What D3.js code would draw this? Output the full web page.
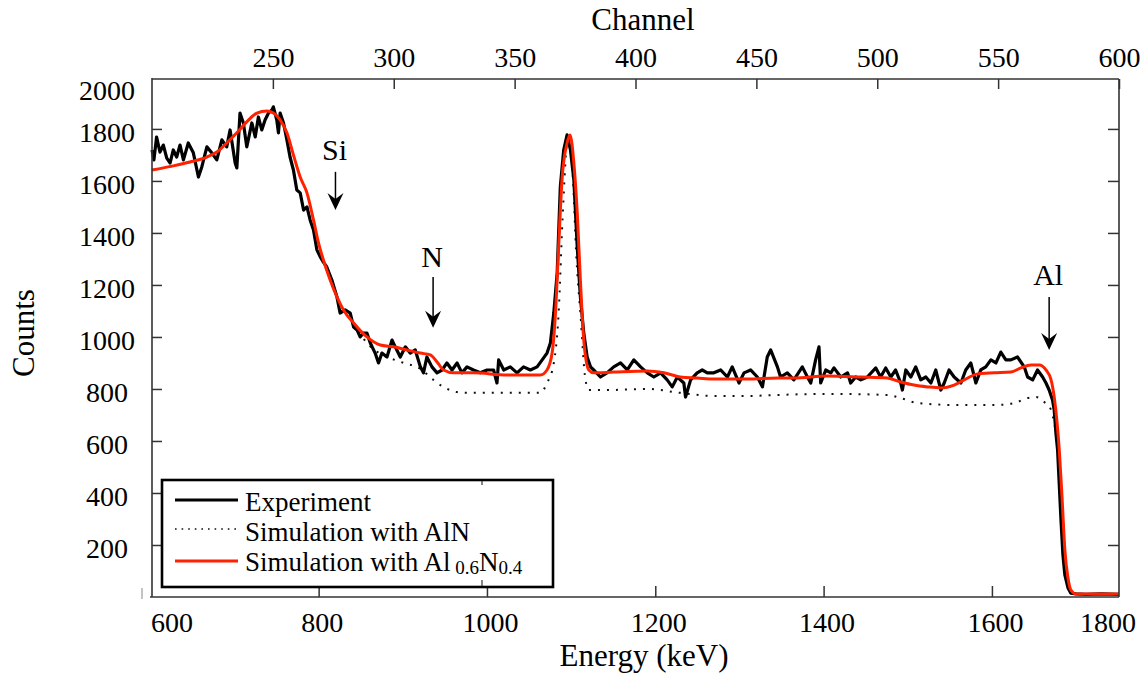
<!DOCTYPE html>
<html><head><meta charset="utf-8">
<script src="https://cdn.jsdelivr.net/npm/d3@7"></script>
<style>
body{margin:0;background:#fff;}
svg{display:block;font-family:"Liberation Serif","Times New Roman",serif;}
</style>
</head><body>
<svg id="chart" width="1146" height="678"></svg>
<script>
// ---------- DATA ----------
const expChannel = [200,200.8,201.9,203.3,204.7,206.1,207.5,208.8,210.2,211.6,213.0,215.0,217.1,219.2,220.6,222.7,224.7,226.8,228.9,230.9,232.3,234.4,235.1,236.4,237.8,239.2,241.3,242.7,244.0,245.4,246.8,248.2,249.6,250.2,251.6,252.3,253.0,254.4,255.8,257.1,258.5,259.9,261.3,262.7,264.1,265.4,266.8,268.2,269.6,270.9,272.3,274.4,276.5,277.8,279.9,282.0,283.4,284.8,286.1,287.5,288.9,290.3,292.3,293.7,295.1,297.2,299.3,300.6,302.7,304.8,306.8,308.9,311.0,312.3,313.7,315.8,317.9,320.0,322.0,324.1,326.2,328.2,330.3,333.0,335.8,338.6,341.3,342.7,343.4,345.5,348.2,351.0,353.7,356.5,359.3,361.4,363.4,364.8,366.2,367.6,368.9,370.3,371.7,373.1,374.5,375.9,377.2,378.6,380.0,381.4,382.7,385.5,388.2,391.0,393.8,396.6,399.3,402.1,404.9,407.6,410.4,413.1,415.2,417.3,420.0,420.7,422.8,425.5,427.6,429.7,432.4,435.2,438.0,440.0,442.8,444.9,447.6,450.4,452.5,454.5,455.9,458.7,460.0,462.8,465.5,469.0,471.1,472.5,474.5,475.9,476.6,478.7,480.8,482.1,484.9,487.7,489.0,491.1,493.2,495.9,499.4,501.4,503.5,505.6,507.6,509.7,510.4,511.8,513.9,515.9,518.0,520.1,522.2,524.2,526.3,527.7,529.7,531.8,534.6,536.6,538.7,540.8,542.8,544.9,547.0,549.1,551.1,553.2,555.3,558.0,560.8,562.2,564.3,566.3,568.4,569.8,571.1,572.5,573.2,573.9,574.6,575.2,576.0,576.8,577.6,578.9,580.1,582.2,586.3,592.5,600];
const expCounts = [1719,1681,1769,1711,1738,1688,1669,1719,1692,1738,1681,1746,1708,1615,1654,1731,1708,1681,1758,1731,1796,1669,1650,1861,1823,1731,1823,1769,1846,1796,1835,1861,1873,1885,1835,1785,1861,1823,1758,1692,1642,1565,1554,1488,1500,1450,1411,1335,1308,1288,1269,1219,1154,1092,1104,1092,1038,1027,1000,1015,1015,977,938,900,938,923,988,962,923,962,938,950,885,862,923,885,862,873,900,873,900,862,885,873,862,873,873,823,912,873,885,862,885,873,885,912,938,977,1092,1246,1577,1719,1777,1719,1604,1346,1154,1015,923,885,873,846,862,885,900,873,912,885,862,846,862,835,808,846,823,769,835,862,873,862,862,873,846,885,823,862,873,846,808,923,950,885,846,862,835,885,846,823,912,962,823,873,862,881,846,862,823,846,835,846,881,846,881,846,873,823,796,873,846,885,835,846,823,873,796,823,873,846,823,873,900,823,873,885,912,900,942,912,912,923,885,846,835,873,846,823,796,758,719,631,565,450,296,162,85,35,15,12,10,12,10];

const simAlNChannel = [200,208.8,215.7,222.7,226.8,230.9,235.1,239.2,243.4,247.5,250.2,253.0,255.8,258.5,261.3,264.1,266.8,268.9,270.9,273.7,276.5,279.2,283.4,288.9,304.1,309.6,319.3,326.2,333.0,360.7,363.4,366.2,368.2,369.8,372.0,373.9,375.6,377.2,379.3,380.7,388.3,404.9,418.6,432.4,446.2,458.7,479.4,504.2,509.7,516.6,534.6,548.4,556.7,562.2,565.7,569.1,571.9,573.2,574.6,575.3,576.5,577.6,578.9,580.1,582.2,600];
const simAlNCounts = [1642,1658,1673,1692,1711,1746,1785,1827,1861,1869,1861,1835,1785,1700,1615,1554,1450,1361,1296,1219,1154,1104,1054,977,900,885,815,788,785,785,823,900,1092,1450,1758,1642,1296,1092,835,796,796,800,785,773,773,777,781,777,765,746,738,738,746,765,769,750,719,669,592,540,373,181,73,27,12,12];

const simAl06Channel = [200,208.8,215.7,222.7,226.8,230.9,235.1,239.2,243.4,247.5,250.2,253.0,255.8,258.5,261.3,264.1,266.8,268.9,270.9,273.7,276.5,279.2,283.4,288.9,294.4,299.9,305.5,311.0,315.1,317.9,320.6,324.8,333.0,346.9,360.7,363.4,365.5,366.9,368.2,369.6,371.7,372.9,374.5,375.9,377.2,378.6,380.7,382.7,391.0,404.9,411.7,418.6,425.5,432.4,446.2,458.7,465.5,479.4,493.2,504.2,509.7,515.2,520.8,526.3,531.8,536.0,541.5,548.4,555.3,559.4,563.6,567.0,569.8,571.9,573.2,574.4,575.3,576.5,577.6,578.9,580.1,582.2,600];
const simAl06Counts = [1642,1658,1673,1692,1711,1746,1785,1827,1861,1869,1861,1835,1785,1700,1615,1554,1450,1361,1296,1219,1154,1104,1054,1000,969,962,950,938,931,904,873,862,862,854,854,873,938,1092,1346,1604,1746,1777,1669,1477,1219,988,873,862,865,869,862,846,842,838,838,842,842,850,846,842,827,815,808,804,815,835,858,862,865,881,892,892,873,835,769,669,565,373,181,73,27,12,12];

const energyTicks = [800,1000,1200,1400,1600];
const energyEdgeLabels = ["600","1800"];
const channelTicks = [250,300,350,400,450,500,550,600];
const countTicks = [200,400,600,800,1000,1200,1400,1600,1800];
const countTopLabel = "2000";

const annLabels = ["Si","N","Al"];
const annEnergy = [820,936,1668];
const annTextCount = [1681,1269,1200];
const annArrowTop = [1635,1231,1154];
const annArrowTip = [1488,1035,950];

const legendLabels = ["Experiment","Simulation with AlN","Simulation with Al"];

// ---------- LAYOUT ----------
const L = 152, R = 1119, T = 79, B = 597;
const svg = d3.select("#chart");
const xE = d3.scaleLinear().domain([602,1751]).range([L,R]);
const xCh = d3.scaleLinear().domain([200,600]).range([L,R]);
const y = d3.scaleLinear().domain([0,1992]).range([B,T]);
const AX = "#333";
const RED = "#ff2200";
const fmt = d3.format("d");

// ---------- SERIES ----------
const zip = (a,b)=>a.map((v,i)=>[v,b[i]]);

svg.append("path").datum(zip(simAlNChannel,simAlNCounts))
  .attr("fill","none").attr("stroke","#111").attr("stroke-width",2)
  .attr("stroke-dasharray","2,7")
  .attr("d", d3.line().x(d=>xCh(d[0])).y(d=>y(d[1])).curve(d3.curveMonotoneX));

svg.append("path").datum(zip(expChannel,expCounts))
  .attr("fill","none").attr("stroke","#000").attr("stroke-width",3.2)
  .attr("stroke-linejoin","round")
  .attr("d", d3.line().x(d=>xCh(d[0])).y(d=>y(d[1])));

svg.append("path").datum(zip(simAl06Channel,simAl06Counts))
  .attr("fill","none").attr("stroke",RED).attr("stroke-width",3)
  .attr("d", d3.line().x(d=>xCh(d[0])).y(d=>y(d[1])).curve(d3.curveMonotoneX));

// ---------- AXES ----------
function styleAxis(g, size){
  g.attr("font-family","Liberation Serif, Times New Roman, serif").attr("font-size",size).attr("color",AX);
  g.select(".domain").remove();
  g.selectAll(".tick line").attr("stroke-width",1.5);
  g.selectAll("text").attr("fill","#000");
}
const gB = svg.append("g").attr("transform",`translate(0,${B})`)
  .call(d3.axisBottom(xE).tickValues(energyTicks).tickFormat(fmt).tickSizeInner(-11).tickSizeOuter(0).tickPadding(15));
styleAxis(gB,28); gB.selectAll("text").attr("dx",3);

const gT = svg.append("g").attr("transform",`translate(0,${T})`)
  .call(d3.axisTop(xCh).tickValues(channelTicks).tickFormat(fmt).tickSizeInner(-10).tickSizeOuter(0).tickPadding(12));
styleAxis(gT,28);

const gL = svg.append("g").attr("transform",`translate(${L},0)`)
  .call(d3.axisLeft(y).tickValues(countTicks).tickFormat(fmt).tickSizeInner(-10).tickSizeOuter(0).tickPadding(45));
styleAxis(gL,28); gL.attr("text-anchor","middle"); gL.selectAll("text").attr("y",4);

const gR = svg.append("g").attr("transform",`translate(${R},0)`)
  .call(d3.axisRight(y).tickValues(countTicks).tickSizeInner(-11).tickSizeOuter(0).tickFormat(""));
styleAxis(gR,28);

// frame
const frame = svg.append("g").attr("stroke",AX).attr("stroke-width",1.6);
frame.append("line").attr("x1",L).attr("x2",L).attr("y1",T-1).attr("y2",B);
frame.append("line").attr("x1",R).attr("x2",R).attr("y1",T).attr("y2",B);
frame.append("line").attr("x1",L).attr("x2",R).attr("y1",T).attr("y2",T);
frame.append("line").attr("x1",L-2).attr("x2",R).attr("y1",B).attr("y2",B);
frame.append("line").attr("x1",142).attr("x2",142).attr("y1",588).attr("y2",599).attr("stroke-width",1).attr("stroke","#888");

// edge labels
svg.append("text").attr("x",107).attr("y",90).attr("dy","0.35em").attr("text-anchor","middle").attr("font-size",28).text(countTopLabel);
svg.append("text").attr("x",172).attr("y",632).attr("text-anchor","middle").attr("font-size",28).text(energyEdgeLabels[0]);
svg.append("text").attr("x",1108).attr("y",632).attr("text-anchor","middle").attr("font-size",28).text(energyEdgeLabels[1]);

// titles
svg.append("text").attr("x",644).attr("y",666).attr("text-anchor","middle").attr("font-size",31).text("Energy (keV)");
svg.append("text").attr("x",643).attr("y",30).attr("text-anchor","middle").attr("font-size",31).text("Channel");
svg.append("text").attr("transform","translate(34,333) rotate(-90)").attr("text-anchor","middle").attr("font-size",31).text("Counts");

// annotations
annLabels.forEach((lab,i)=>{
  const xx = xE(annEnergy[i]);
  svg.append("text").attr("x",xx-1).attr("y",y(annTextCount[i])).attr("text-anchor","middle").attr("font-size",30).text(lab);
  const yTop = y(annArrowTop[i]), yTip = y(annArrowTip[i]);
  svg.append("line").attr("x1",xx).attr("x2",xx).attr("y1",yTop).attr("y2",yTip-8).attr("stroke","#000").attr("stroke-width",1.5);
  svg.append("path").attr("d",`M${xx},${yTip} L${xx-8},${yTip-17} L${xx},${yTip-11} L${xx+8},${yTip-17} Z`).attr("fill","#000");
});

// legend
const lg = svg.append("g");
lg.append("rect").attr("x",162).attr("y",480).attr("width",391).attr("height",107)
  .attr("fill","#fff").attr("stroke","#000").attr("stroke-width",2.6);
lg.append("line").attr("x1",482).attr("x2",482).attr("y1",481).attr("y2",485).attr("stroke","#333").attr("stroke-width",1.2);
lg.append("line").attr("x1",482).attr("x2",482).attr("y1",580).attr("y2",586).attr("stroke","#333").attr("stroke-width",1.2);
const sampleY = [500,529,561];
lg.append("line").attr("x1",175).attr("x2",238).attr("y1",sampleY[0]).attr("y2",sampleY[0]).attr("stroke","#000").attr("stroke-width",3);
lg.append("line").attr("x1",175).attr("x2",238).attr("y1",sampleY[1]).attr("y2",sampleY[1]).attr("stroke","#111").attr("stroke-width",1.6).attr("stroke-dasharray","1.6,5");
lg.append("line").attr("x1",175).attr("x2",238).attr("y1",sampleY[2]).attr("y2",sampleY[2]).attr("stroke",RED).attr("stroke-width",3);
const textY = [511,541,571];
legendLabels.forEach((t,i)=>{
  const tx = lg.append("text").attr("x",245).attr("y",textY[i]).attr("font-size",27).text(t);
  if(i===2){
    tx.append("tspan").attr("font-size",19).attr("dy",3).text(" 0.6");
    tx.append("tspan").attr("font-size",27).attr("dy",-3).text("N");
    tx.append("tspan").attr("font-size",19).attr("dy",3).text("0.4");
  }
});
</script>
</body></html>
